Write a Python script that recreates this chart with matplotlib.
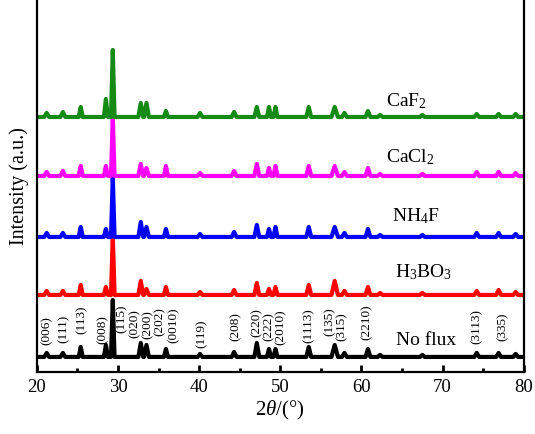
import matplotlib
matplotlib.use("Agg")
import matplotlib.pyplot as plt
from matplotlib.ticker import MultipleLocator

plt.rcParams['font.family'] = ['Liberation Serif', 'DejaVu Serif']
plt.rcParams['mathtext.fontset'] = 'custom'
plt.rcParams['mathtext.rm'] = 'Liberation Serif'
plt.rcParams['mathtext.it'] = 'Liberation Serif:italic'

# Peak positions (2theta, degrees) shared by all samples
peak_pos = [21.2, 23.2, 25.4, 28.5, 29.35, 32.8, 33.5, 35.9, 40.1, 44.3, 47.1,
            48.6, 49.4, 53.5, 56.7, 57.9, 60.8, 62.3, 67.5, 74.2, 76.9, 79.0]
peak_halfwidth = [0.3, 0.3, 0.25, 0.25, 0.22, 0.3, 0.3, 0.25, 0.3, 0.3, 0.3,
                  0.25, 0.25, 0.3, 0.4, 0.3, 0.3, 0.3, 0.3, 0.3, 0.3, 0.3]

series_names = ["No flux", r"H$_3$BO$_3$", r"NH$_4$F", r"CaCl$_2$", r"CaF$_2$"]
series_colors = ["#000000", "#ff0000", "#0000ff", "#ff00ff", "#158a15"]
baselines = [15, 77, 135, 196, 255]

h_noflux = [4, 4, 10, 12, 57, 14, 12, 8, 3, 5, 14, 8, 8, 10, 12, 4, 8, 2, 2, 4, 4, 3]
h_h3bo3 = [4, 4, 10, 8, 60, 14, 6, 8, 3, 5, 12, 6, 8, 10, 14, 4, 8, 2, 2, 4, 5, 3]
h_nh4f = [4, 4, 10, 8, 60, 15, 10, 8, 3, 5, 12, 8, 10, 10, 10, 4, 8, 2, 2, 4, 4, 3]
h_cacl2 = [4, 5, 10, 10, 59, 12, 8, 10, 3, 5, 12, 8, 10, 10, 10, 4, 8, 2, 2, 4, 4, 3]
h_caf2 = [4, 5, 10, 18, 67, 14, 14, 6, 4, 5, 10, 10, 10, 10, 10, 4, 6, 2, 2, 3, 3, 3]
heights = [h_noflux, h_h3bo3, h_nh4f, h_cacl2, h_caf2]

label_x = [68.0, 67.7, 66.7, 66.0, 65.5]
label_dy = [16, 23, 21, 19, 16]

hkl_labels = ["(006)", "(111)", "(113)", "(008)", "(115)", "(020)", "(200)", "(202)",
              "(0010)", "(119)", "(208)", "(220)", "(222)", "(2010)", "(1113)",
              "(135)", "(315)", "(2210)", "(3113)", "(335)"]
hkl_x = [21.2, 23.3, 25.5, 28.1, 30.5, 32.1, 33.6, 35.1, 36.8, 40.3, 44.5, 47.1,
         48.6, 50.1, 53.5, 56.1, 57.5, 60.6, 74.2, 77.4]
hkl_y = [41, 43, 52, 42, 53, 48, 47, 50, 47, 38, 45, 49, 45, 45, 46, 50, 45, 50, 45, 45]

fig = plt.figure(figsize=(5.35, 4.34), dpi=100)
ax = fig.add_axes([0.069, 0.143, 0.910, 0.857])

for name, col, base, hs, lx, ldy in zip(series_names, series_colors, baselines, heights, label_x, label_dy):
    xs = [20.0]
    ys = [base]
    for p, w, h in zip(peak_pos, peak_halfwidth, hs):
        xs += [p - w, p, p + w]
        ys += [base, base + h, base]
    xs.append(80.0)
    ys.append(base)
    ax.plot(xs, ys, color=col, lw=3.0, solid_joinstyle='round')
    ax.text(lx, base + ldy, name, fontsize=14, ha='center', va='center')

for lab, x, y in zip(hkl_labels, hkl_x, hkl_y):
    ax.text(x, y, lab, rotation=90, fontsize=9.5, ha='center', va='center')

ax.set_xlim(20, 80)
ax.set_ylim(0, 372)
ax.xaxis.set_major_locator(MultipleLocator(10))
ax.xaxis.set_minor_locator(MultipleLocator(5))
ax.tick_params(axis='x', which='major', direction='in', length=5, width=2, labelsize=13.5, pad=5)
ax.tick_params(axis='x', which='minor', direction='in', length=3, width=2)
ax.set_yticks([])
ax.spines['top'].set_visible(False)
for s in ['left', 'right', 'bottom']:
    ax.spines[s].set_linewidth(1.6)

ax.set_xlabel(r"2$\it{\theta}$/(°)", fontsize=15, labelpad=2)
ax.set_ylabel("Intensity (a.u.)", fontsize=14.5, labelpad=6)

fig.savefig("out.png", dpi=100)
